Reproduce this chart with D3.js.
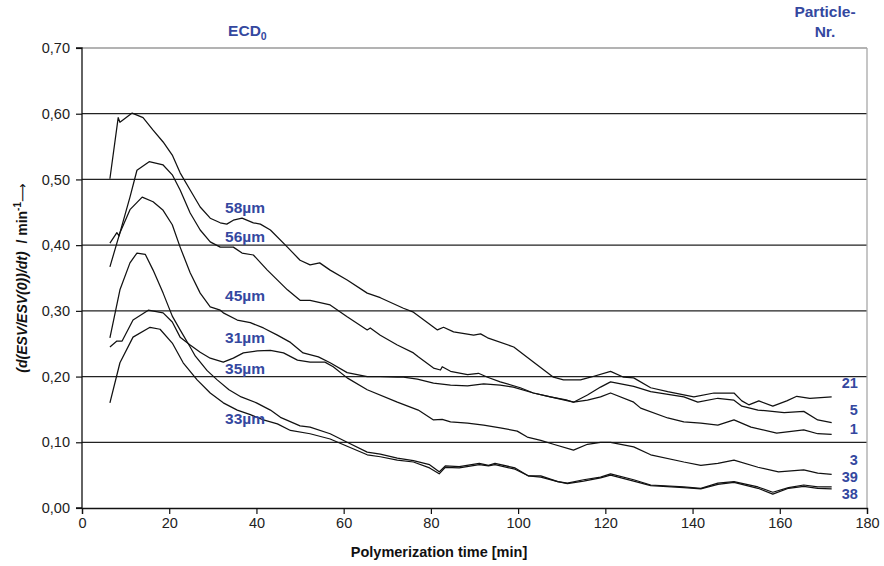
<!DOCTYPE html>
<html>
<head>
<meta charset="utf-8">
<script src="https://cdn.jsdelivr.net/npm/d3@7/dist/d3.min.js"></script>
<style>
  body { margin: 0; background: #fff; }
  svg { display: block; }
  text { font-family: "Liberation Sans", Arial, sans-serif; }
</style>
</head>
<body>
<svg id="chart" width="884" height="566"></svg>
<script>
// ---------- data ----------
const xTicks = [0, 20, 40, 60, 80, 100, 120, 140, 160, 180];
const yTicks = [0, 0.1, 0.2, 0.3, 0.4, 0.5, 0.6, 0.7];

// particle 21 (58 µm)
const curve21 = [[6.4,0.501],[8.3,0.594],[8.7,0.587],[11.5,0.601],[14.0,0.594],[16.3,0.575],[18.6,0.557],[20.7,0.537],[22.5,0.510],[24.8,0.484],[27.1,0.458],[29.4,0.441],[31.7,0.434],[33.2,0.432],[34.7,0.438],[36.7,0.441],[39.3,0.434],[40.9,0.432],[43.2,0.423],[47.1,0.397],[50.0,0.377],[52.3,0.370],[54.5,0.373],[56.9,0.362],[60.8,0.347],[65.4,0.327],[68.4,0.320],[73.7,0.304],[76.0,0.298],[81.5,0.271],[82.9,0.275],[85.2,0.268],[89.8,0.263],[91.4,0.265],[93.0,0.259],[99.0,0.245],[103.5,0.222],[108.1,0.199],[110.4,0.195],[114.3,0.195],[116.6,0.199],[121.2,0.208],[124.2,0.199],[126.5,0.198],[130.4,0.183],[134.3,0.177],[138.0,0.172],[140.3,0.169],[144.9,0.175],[149.5,0.175],[151.3,0.163],[152.9,0.157],[155.2,0.163],[158.4,0.155],[161.6,0.163],[163.9,0.170],[166.9,0.167],[171.9,0.169]];
// particle 5 (56 µm)
const curve5 = [[6.4,0.403],[8.0,0.419],[8.5,0.414],[11.0,0.473],[12.6,0.514],[15.4,0.527],[18.6,0.522],[20.7,0.507],[22.5,0.484],[24.8,0.449],[27.1,0.423],[29.4,0.405],[31.7,0.397],[34.7,0.397],[36.7,0.388],[39.3,0.385],[42.5,0.362],[47.1,0.332],[50.0,0.316],[52.3,0.316],[56.9,0.309],[60.8,0.291],[65.4,0.271],[66.1,0.274],[68.4,0.263],[72.3,0.248],[76.0,0.236],[77.1,0.230],[80.6,0.213],[82.2,0.210],[82.6,0.215],[84.5,0.208],[88.4,0.203],[90.9,0.205],[93.0,0.199],[95.9,0.192],[100.5,0.183],[103.5,0.175],[107.4,0.169],[111.3,0.164],[112.7,0.161],[115.9,0.172],[118.9,0.184],[121.2,0.192],[126.5,0.185],[130.4,0.177],[138.0,0.169],[141.2,0.161],[145.8,0.167],[149.5,0.164],[151.3,0.155],[155.0,0.149],[156.6,0.148],[161.0,0.145],[165.5,0.147],[168.7,0.134],[171.9,0.130]];
// particle 1 (45 µm)
const curve1 = [[6.4,0.367],[8.7,0.419],[11.0,0.454],[13.8,0.473],[16.3,0.466],[18.6,0.453],[20.7,0.431],[22.5,0.397],[24.8,0.358],[27.1,0.327],[29.4,0.306],[31.7,0.301],[32.4,0.297],[35.6,0.286],[38.6,0.282],[41.6,0.274],[44.8,0.263],[47.8,0.252],[50.7,0.236],[54.2,0.230],[56.9,0.221],[60.8,0.206],[65.4,0.200],[68.4,0.200],[72.3,0.199],[73.7,0.199],[76.9,0.196],[80.6,0.190],[84.5,0.187],[88.4,0.186],[92.1,0.189],[95.9,0.187],[98.9,0.184],[103.5,0.175],[107.4,0.169],[112.7,0.161],[115.9,0.164],[118.9,0.169],[121.2,0.175],[126.5,0.161],[128.1,0.152],[134.3,0.137],[138.0,0.131],[141.9,0.129],[145.8,0.126],[149.5,0.134],[153.4,0.123],[159.3,0.114],[165.5,0.119],[168.7,0.113],[171.9,0.112]];
// particle 3
const curve3 = [[6.4,0.245],[8.0,0.254],[9.2,0.254],[11.7,0.286],[15.2,0.301],[18.6,0.297],[20.7,0.283],[22.5,0.260],[24.8,0.248],[27.1,0.237],[29.4,0.228],[32.4,0.222],[34.7,0.228],[37.0,0.236],[40.2,0.239],[43.2,0.240],[46.2,0.236],[49.4,0.225],[52.3,0.222],[55.7,0.222],[57.6,0.215],[60.8,0.198],[65.4,0.180],[72.3,0.161],[77.1,0.149],[80.6,0.134],[82.6,0.135],[84.5,0.131],[88.4,0.129],[92.1,0.126],[95.9,0.122],[99.8,0.117],[102.1,0.108],[105.2,0.103],[108.1,0.097],[112.7,0.088],[115.9,0.097],[118.9,0.100],[121.2,0.100],[126.5,0.093],[130.4,0.081],[138.0,0.070],[141.9,0.065],[145.8,0.068],[149.5,0.073],[155.0,0.062],[159.7,0.055],[165.5,0.058],[168.7,0.053],[171.9,0.051]];
// particle 39
const curve39 = [[6.4,0.259],[8.7,0.332],[11.0,0.373],[12.6,0.388],[14.5,0.386],[16.3,0.362],[18.6,0.327],[20.7,0.292],[22.5,0.271],[24.8,0.245],[26.0,0.231],[28.7,0.209],[31.0,0.195],[33.7,0.180],[36.5,0.169],[40.0,0.160],[43.2,0.149],[45.5,0.138],[50.0,0.125],[52.3,0.123],[56.9,0.113],[60.8,0.100],[65.4,0.085],[68.4,0.082],[72.3,0.076],[76.0,0.072],[79.7,0.066],[81.9,0.055],[83.3,0.064],[86.5,0.063],[91.1,0.068],[93.2,0.065],[94.7,0.068],[99.3,0.061],[102.3,0.049],[105.2,0.049],[109.1,0.040],[111.3,0.038],[115.0,0.043],[118.9,0.047],[121.2,0.052],[126.5,0.043],[130.4,0.035],[138.0,0.032],[141.9,0.030],[145.8,0.038],[149.5,0.040],[155.0,0.032],[158.4,0.024],[162.0,0.031],[165.5,0.035],[168.7,0.032],[171.9,0.032]];
// particle 38 (33 µm)
const curve38 = [[6.4,0.160],[8.7,0.221],[11.7,0.260],[15.6,0.275],[17.9,0.272],[20.7,0.251],[23.2,0.221],[26.4,0.195],[29.4,0.175],[32.4,0.160],[35.6,0.149],[38.6,0.142],[41.6,0.134],[44.8,0.128],[47.8,0.118],[52.3,0.113],[56.9,0.105],[60.8,0.094],[65.4,0.081],[68.4,0.078],[72.3,0.073],[76.0,0.070],[79.7,0.061],[81.9,0.052],[83.3,0.062],[86.5,0.061],[91.1,0.066],[93.2,0.064],[94.7,0.066],[99.3,0.059],[102.3,0.049],[105.2,0.047],[109.1,0.040],[111.3,0.037],[115.0,0.041],[118.9,0.046],[121.2,0.050],[126.5,0.041],[130.4,0.034],[138.0,0.031],[141.9,0.029],[145.8,0.036],[149.5,0.039],[155.0,0.030],[158.4,0.021],[162.0,0.030],[165.5,0.033],[168.7,0.030],[171.9,0.029]];

const curves = [curve21, curve5, curve1, curve3, curve39, curve38];

const ecdLabels = ["58µm", "56µm", "45µm", "31µm", "35µm", "33µm"];
const ecdLabelY = [0.458, 0.414, 0.323, 0.259, 0.213, 0.137];
const ecdLabelX = 32.8;

const particleLabels = ["21", "5", "1", "3", "39", "38"];
const particleLabelY = [0.190, 0.149, 0.121, 0.073, 0.047, 0.022];
const particleLabelX = 177.9;

// ---------- drawing ----------
const svg = d3.select("#chart");
const W = 884, H = 566;
const m = { left: 82, right: 17, top: 48, bottom: 58 };
const x = d3.scaleLinear().domain([0, 180]).range([m.left, W - m.right]);
const y = d3.scaleLinear().domain([0, 0.7]).range([H - m.bottom, m.top]);
const blue = "#34489f";

// grid lines
svg.append("g").selectAll("line")
  .data(yTicks.filter(d => d > 0))
  .join("line")
  .attr("x1", x(0)).attr("x2", x(180))
  .attr("y1", d => y(d)).attr("y2", d => y(d))
  .attr("stroke", d => d >= 0.7 ? "#9a9a9a" : "#222")
  .attr("stroke-width", 1.3);

// right border
svg.append("line")
  .attr("x1", x(180)).attr("x2", x(180))
  .attr("y1", y(0.7)).attr("y2", y(0))
  .attr("stroke", "#a8a8a8").attr("stroke-width", 1.3);

const fmt = d => d3.format(".2f")(d).replace(".", ",");

const xAxis = svg.append("g")
  .attr("transform", `translate(0,${y(0)})`)
  .call(d3.axisBottom(x).tickValues(xTicks).tickSize(6).tickPadding(4).tickFormat(d3.format("d")));
const yAxis = svg.append("g")
  .attr("transform", `translate(${x(0)},0)`)
  .call(d3.axisLeft(y).tickValues(yTicks).tickSize(6).tickPadding(6).tickFormat(fmt));

[xAxis, yAxis].forEach(g => {
  g.select(".domain").attr("stroke", "#111").attr("stroke-width", 1.3);
  g.selectAll(".tick line").attr("stroke", "#111").attr("stroke-width", 1.2);
  g.selectAll(".tick text").attr("fill", "#222")
    .style("font-family", '"Liberation Sans", Arial, sans-serif')
    .style("font-size", "14.5px");
});
yAxis.select(".domain").attr("d", `M-6,${y(0.7)}H0V${y(0)}H-6`);

// curves
const line = d3.line().x(d => x(d[0])).y(d => y(d[1]));
svg.append("g").selectAll("path")
  .data(curves)
  .join("path")
  .attr("d", line)
  .attr("fill", "none")
  .attr("stroke", "#111")
  .attr("stroke-width", 1.25)
  .attr("stroke-linejoin", "round");

// ECD labels
svg.append("g").selectAll("text")
  .data(ecdLabels)
  .join("text")
  .attr("x", x(ecdLabelX))
  .attr("y", (d, i) => y(ecdLabelY[i]))
  .attr("dy", "0.36em")
  .attr("fill", blue)
  .style("font-weight", "bold")
  .style("font-size", "15.5px")
  .text(d => d);

// particle labels
svg.append("g").selectAll("text")
  .data(particleLabels)
  .join("text")
  .attr("x", x(particleLabelX))
  .attr("y", (d, i) => y(particleLabelY[i]))
  .attr("dy", "0.36em")
  .attr("text-anchor", "end")
  .attr("fill", blue)
  .style("font-weight", "bold")
  .style("font-size", "14.5px")
  .text(d => d);

// headers
const ecd = svg.append("text")
  .attr("x", x(33.5)).attr("y", 36)
  .attr("fill", blue).style("font-weight", "bold").style("font-size", "15.5px");
ecd.append("tspan").text("ECD");
ecd.append("tspan").attr("dy", 4).style("font-size", "10.5px").text("0");

svg.append("text").attr("x", 825).attr("y", 17).attr("text-anchor", "middle")
  .attr("fill", blue).style("font-weight", "bold").style("font-size", "15.5px").text("Particle-");
svg.append("text").attr("x", 825).attr("y", 37).attr("text-anchor", "middle")
  .attr("fill", blue).style("font-weight", "bold").style("font-size", "15.5px").text("Nr.");

// axis titles
svg.append("text")
  .attr("x", 439).attr("y", 557)
  .attr("text-anchor", "middle")
  .attr("fill", "#111")
  .style("font-weight", "bold").style("font-size", "14.5px")
  .text("Polymerization time [min]");

const yt = svg.append("text")
  .attr("transform", "translate(27,278) rotate(-90)")
  .attr("text-anchor", "middle")
  .attr("fill", "#111")
  .style("font-weight", "bold").style("font-size", "14px");
yt.append("tspan").style("font-style", "italic").text("(d(ESV/ESV(0))/dt)");
yt.append("tspan").text("\u00a0\u00a0/ min");
yt.append("tspan").attr("dy", -6).style("font-size", "10px").text("-1");
yt.append("tspan").attr("dy", 6)
  .style("font-family", '"DejaVu Sans", sans-serif')
  .style("font-weight", "normal").style("font-size", "13px")
  .text("\u27F6");
</script>
</body>
</html>
